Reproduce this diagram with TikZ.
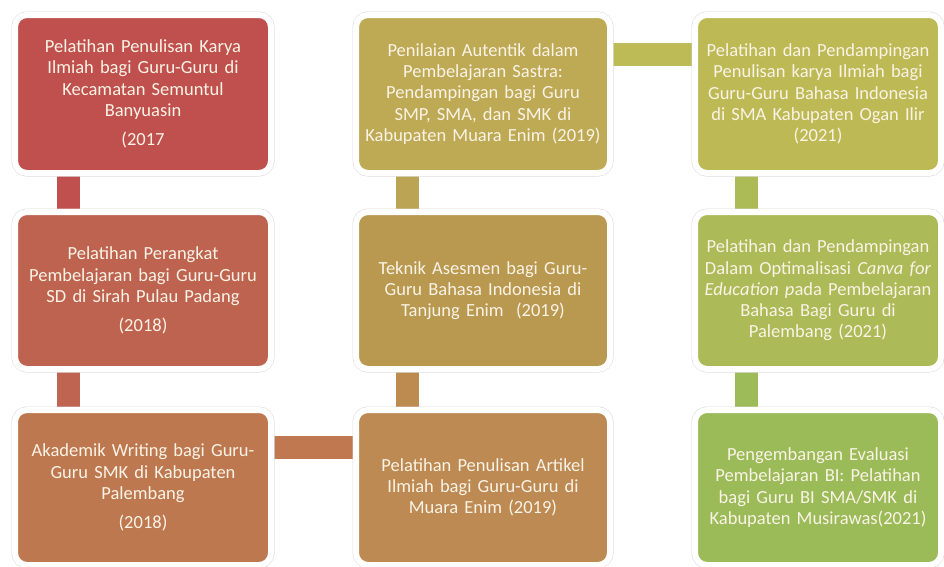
\documentclass[tikz,border=0pt]{standalone}
\usepackage{fontspec}
\setmainfont{Carlito}
\usetikzlibrary{shadows,backgrounds}
\definecolor{c1}{HTML}{C0504D}
\definecolor{c2}{HTML}{BE634F}
\definecolor{c3}{HTML}{BE7850}
\definecolor{c4}{HTML}{BEA955}
\definecolor{c5}{HTML}{B99850}
\definecolor{c6}{HTML}{BC8A52}
\definecolor{c7}{HTML}{BDBA56}
\definecolor{c8}{HTML}{ACBA58}
\definecolor{c9}{HTML}{9BBB59}
\definecolor{k12}{HTML}{C0504D}
\definecolor{k23}{HTML}{BE6450}
\definecolor{k36}{HTML}{BF7850}
\definecolor{k65}{HTML}{BD8B50}
\definecolor{k54}{HTML}{BBA554}
\definecolor{k47}{HTML}{BDBB55}
\definecolor{k78}{HTML}{ADBB57}
\definecolor{k89}{HTML}{9DBB59}
\definecolor{txt}{HTML}{FAF3E6}
\tikzset{
  box/.style={rectangle, rounded corners=12pt, draw=white, line width=6pt,
    text=txt, align=center, inner sep=0pt,
    font=\fontsize{18.5}{21.2}\selectfont,
    drop shadow={opacity=0.22, shadow xshift=1pt, shadow yshift=-2pt},
    preaction={draw=black!15, line width=7pt}},
  colA/.style={minimum width=256pt, text width=250pt},
  colB/.style={minimum width=254pt, text width=250pt},
  colC/.style={minimum width=246pt, text width=246pt},
  bar/.style={line width=23pt}
}
\begin{document}
\begin{tikzpicture}[x=1pt,y=-1pt]
\useasboundingbox (0,0) rectangle (944,566);
% column 1
\node[box, colA, fill=c1, minimum height=158pt] (b1) at (143,94)
  {Pelatihan Penulisan Karya\\ Ilmiah bagi Guru-Guru di\\ Kecamatan Semuntul\\ Banyuasin\\[8pt] (2017};
\node[box, colA, fill=c2, minimum height=157pt] (b2) at (143,290.5)
  {Pelatihan Perangkat\\ Pembelajaran bagi Guru-Guru\\ SD di Sirah Pulau Padang\\[8pt] (2018)};
\node[box, colA, fill=c3, minimum height=155pt] (b3) at (143,487.5)
  {Akademik Writing bagi Guru-\\ Guru SMK di Kabupaten\\ Palembang\\[8pt] (2018)};
% column 2
\node[box, colB, fill=c4, minimum height=158pt] (b4) at (483,94)
  {Penilaian Autentik dalam\\ Pembelajaran Sastra:\\ Pendampingan bagi Guru\\ SMP, SMA, dan SMK di\\ Kabupaten Muara Enim (2019)};
\node[box, colB, fill=c5, minimum height=157pt] (b5) at (483,290.5)
  {Teknik Asesmen bagi Guru-\\ Guru Bahasa Indonesia di\\ Tanjung Enim~~(2019)};
\node[box, colB, fill=c6, minimum height=155pt] (b6) at (483,487.5)
  {Pelatihan Penulisan Artikel\\ Ilmiah bagi Guru-Guru di\\ Muara Enim (2019)};
% column 3
\node[box, colC, fill=c7, minimum height=158pt] (b7) at (818,94)
  {Pelatihan dan Pendampingan\\ Penulisan karya Ilmiah bagi\\ Guru-Guru Bahasa Indonesia\\ di SMA Kabupaten Ogan Ilir\\ (2021)};
\node[box, colC, fill=c8, minimum height=157pt] (b8) at (818,290.5)
  {Pelatihan dan Pendampingan\\ Dalam Optimalisasi \textit{Canva for}\\ \textit{Education p}ada Pembelajaran\\ Bahasa Bagi Guru di\\ Palembang (2021)};
\node[box, colC, fill=c9, minimum height=155pt] (b9) at (818,487.5)
  {Pengembangan Evaluasi\\ Pembelajaran BI: Pelatihan\\ bagi Guru BI SMA/SMK di\\ Kabupaten Musirawas(2021)};
% connectors
\begin{scope}[on background layer]
\fill[white] (0,0) rectangle (944,566);
\draw[bar, k12] ([xshift=-75pt]b1.south) -- ([xshift=-75pt]b2.north);
\draw[bar, k23] ([xshift=-75pt]b2.south) -- ([xshift=-75pt]b3.north);
\draw[bar, k36] ([yshift=40.5pt]b3.east) -- ([yshift=40.5pt]b6.west);
\draw[bar, k65] ([xshift=-76pt]b6.north) -- ([xshift=-76pt]b5.south);
\draw[bar, k54] ([xshift=-76pt]b5.north) -- ([xshift=-76pt]b4.south);
\draw[bar, k47] ([yshift=40pt]b4.east) -- ([yshift=40pt]b7.west);
\draw[bar, k78] ([xshift=-72pt]b7.south) -- ([xshift=-72pt]b8.north);
\draw[bar, k89] ([xshift=-72pt]b8.south) -- ([xshift=-72pt]b9.north);
\end{scope}
\end{tikzpicture}
\end{document}
